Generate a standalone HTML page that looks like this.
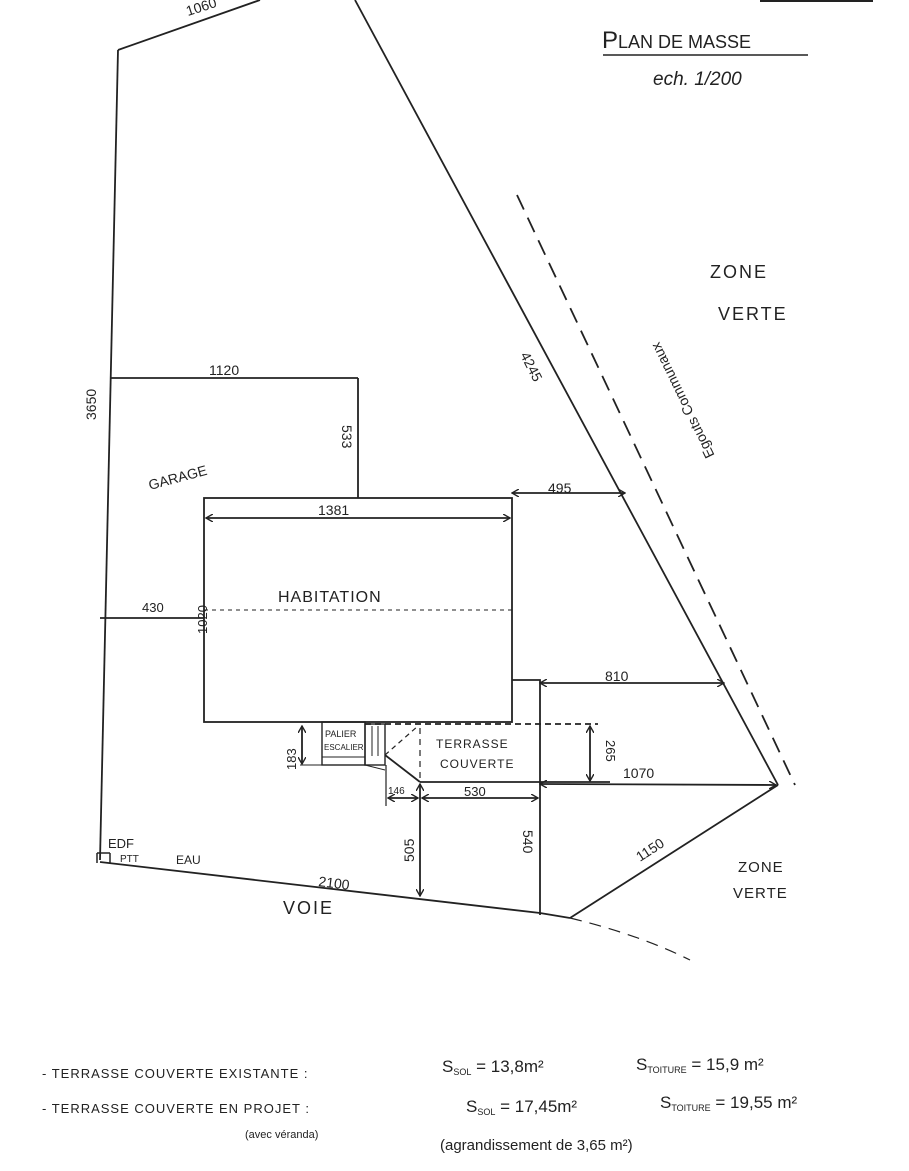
<!DOCTYPE html>
<html><head><meta charset="utf-8"><style>
html,body{margin:0;padding:0;background:#fff;}
svg{display:block}
text{font-family:"Liberation Sans",sans-serif;fill:#222;}
</style></head><body>
<svg width="909" height="1171" viewBox="0 0 909 1171" xmlns="http://www.w3.org/2000/svg">
<defs><marker id="a" markerUnits="userSpaceOnUse" markerWidth="8" markerHeight="8" refX="7" refY="4" orient="auto-start-reverse"><path d="M0,0 L7,4 L0,8" fill="none" stroke="#222" stroke-width="1.4"/></marker></defs>
<g stroke="#222" stroke-width="1.8" fill="none">
<line x1="760" y1="0" x2="873" y2="0" stroke-width="4"/>
<line x1="118" y1="50" x2="260" y2="0"/>
<line x1="118" y1="50" x2="100" y2="860"/>
<line x1="355" y1="0" x2="778" y2="785"/>
<line x1="517" y1="195" x2="795" y2="785" stroke-dasharray="16,9"/>
<line x1="778" y1="785" x2="570" y2="918"/>
<polyline points="100,862 540,913 570,918"/>
<path d="M570,918 Q640,935 690,960" stroke-dasharray="12,8" stroke-width="1.2"/>
<line x1="110" y1="378" x2="358" y2="378"/>
<line x1="358" y1="378" x2="358" y2="498"/>
<rect x="204" y="498" width="308" height="224"/>
<line x1="204" y1="610" x2="512" y2="610" stroke-dasharray="4,4" stroke-width="1"/>
<line x1="100" y1="618" x2="204" y2="618"/>
<polyline points="512,680 540,680 540,915"/>
<line x1="540" y1="683" x2="724" y2="683" marker-end="url(#a)" marker-start="url(#a)"/>
<line x1="512" y1="493" x2="625" y2="493" marker-end="url(#a)" marker-start="url(#a)"/>
<line x1="206" y1="518" x2="510" y2="518" marker-end="url(#a)" marker-start="url(#a)"/>
<line x1="365" y1="724" x2="598" y2="724" stroke-dasharray="6,4"/>
<line x1="420" y1="728" x2="420" y2="782" stroke-dasharray="6,5" stroke-width="1.2"/>
<line x1="590" y1="726" x2="590" y2="781" marker-end="url(#a)" marker-start="url(#a)"/>
<line x1="420" y1="782" x2="610" y2="782"/>
<line x1="540" y1="784" x2="776" y2="785" marker-end="url(#a)" marker-start="url(#a)"/>
<rect x="322" y="722" width="43" height="43" stroke-width="1.4"/>
<line x1="322" y1="757" x2="365" y2="757" stroke-width="1"/>
<rect x="365" y="724" width="20" height="41" stroke-width="1.4"/>
<line x1="372" y1="726" x2="372" y2="756" stroke-width="1"/>
<line x1="378" y1="726" x2="378" y2="756" stroke-width="1"/>
<line x1="365" y1="765" x2="385" y2="770" stroke-width="1"/>
<line x1="385" y1="755" x2="420" y2="782"/>
<line x1="385" y1="755" x2="418" y2="726" stroke-dasharray="5,4" stroke-width="1.2"/>
<line x1="302" y1="726" x2="302" y2="764" marker-end="url(#a)" marker-start="url(#a)"/>
<line x1="300" y1="765" x2="322" y2="765" stroke-width="1"/>
<line x1="386" y1="765" x2="386" y2="806" stroke-width="1.2"/>
<line x1="388" y1="798" x2="418" y2="798" marker-end="url(#a)" marker-start="url(#a)"/>
<line x1="422" y1="798" x2="538" y2="798" marker-end="url(#a)" marker-start="url(#a)"/>
<line x1="420" y1="784" x2="420" y2="896" marker-end="url(#a)" marker-start="url(#a)"/>
<line x1="97" y1="853" x2="97" y2="863" stroke-width="1.5"/>
<line x1="97" y1="853" x2="110" y2="853" stroke-width="1.5"/>
<line x1="110" y1="853" x2="110" y2="863" stroke-width="1.5"/>
<line x1="603" y1="55" x2="808" y2="55" stroke-width="1.4"/>
</g>
<text x="602" y="48" font-size="24">P<tspan font-size="18">LAN DE MASSE</tspan></text>
<text x="653" y="85" font-size="19" font-style="italic">ech. 1/200</text>
<text x="710" y="278" font-size="18" letter-spacing="2">ZONE</text>
<text x="718" y="320" font-size="18" letter-spacing="2">VERTE</text>
<text x="738" y="872" font-size="15" letter-spacing="1">ZONE</text>
<text x="733" y="898" font-size="15" letter-spacing="1">VERTE</text>
<text x="186" y="12" font-size="14" transform="rotate(-18 200 8)">1060</text>
<text x="209" y="375" font-size="14">1120</text>
<text x="96" y="420" font-size="14" transform="rotate(-90 96 420)">3650</text>
<text x="342" y="425" font-size="14" transform="rotate(90 342 425)">533</text>
<text x="150" y="490" font-size="14" transform="rotate(-15 150 490)">GARAGE</text>
<text x="318" y="515" font-size="14">1381</text>
<text x="548" y="493" font-size="14">495</text>
<text x="520" y="355" font-size="14" transform="rotate(63 520 355)">4245</text>
<text x="677" y="378" font-size="14" transform="rotate(64 677 378) rotate(180 720 378)">Egouts Communaux</text>
<text x="278" y="602" font-size="16" letter-spacing="1">HABITATION</text>
<text x="142" y="612" font-size="13">430</text>
<text x="207" y="634" font-size="13" transform="rotate(-90 207 634)">1020</text>
<text x="605" y="681" font-size="14">810</text>
<text x="623" y="778" font-size="14">1070</text>
<text x="325" y="737" font-size="9">PALIER</text>
<text x="324" y="750" font-size="8">ESCALIER</text>
<text x="296" y="770" font-size="13" transform="rotate(-90 296 770)">183</text>
<text x="436" y="748" font-size="12" letter-spacing="1">TERRASSE</text>
<text x="440" y="768" font-size="12" letter-spacing="1">COUVERTE</text>
<text x="606" y="740" font-size="13" transform="rotate(90 606 740)">265</text>
<text x="388" y="794" font-size="10">146</text>
<text x="464" y="796" font-size="13">530</text>
<text x="414" y="862" font-size="14" transform="rotate(-90 414 862)">505</text>
<text x="523" y="830" font-size="14" transform="rotate(90 523 830)">540</text>
<text x="640" y="862" font-size="14" transform="rotate(-33 640 862)">1150</text>
<text x="318" y="886" font-size="14" transform="rotate(7 318 886)">2100</text>
<text x="108" y="848" font-size="13">EDF</text>
<text x="120" y="862" font-size="10">PTT</text>
<text x="176" y="864" font-size="12">EAU</text>
<text x="283" y="914" font-size="18" letter-spacing="2">VOIE</text>
<text x="42" y="1078" font-size="13" letter-spacing="1">- TERRASSE COUVERTE EXISTANTE :</text>
<text x="42" y="1113" font-size="13" letter-spacing="1">- TERRASSE COUVERTE EN PROJET :</text>
<text x="245" y="1138" font-size="11">(avec véranda)</text>
<text x="442" y="1072" font-size="17">S<tspan font-size="9" dy="3">SOL</tspan><tspan dy="-3"> = 13,8m²</tspan></text>
<text x="636" y="1070" font-size="17">S<tspan font-size="9" dy="3">TOITURE</tspan><tspan dy="-3"> = 15,9 m²</tspan></text>
<text x="466" y="1112" font-size="17">S<tspan font-size="9" dy="3">SOL</tspan><tspan dy="-3"> = 17,45m²</tspan></text>
<text x="660" y="1108" font-size="17">S<tspan font-size="9" dy="3">TOITURE</tspan><tspan dy="-3"> = 19,55 m²</tspan></text>
<text x="440" y="1150" font-size="15">(agrandissement de 3,65 m²)</text>
</svg>
</body></html>
